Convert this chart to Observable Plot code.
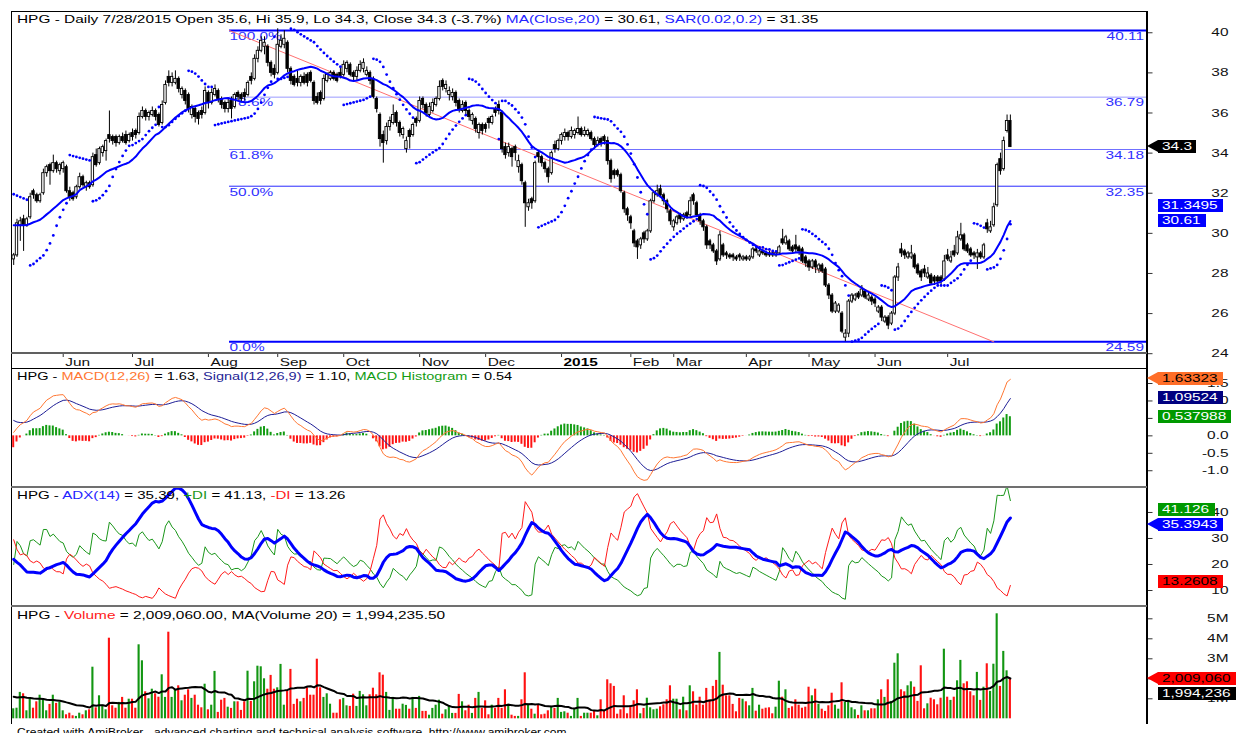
<!DOCTYPE html>
<html><head><meta charset="utf-8">
<script src="https://cdn.jsdelivr.net/npm/d3@7"></script>
<script src="https://cdn.jsdelivr.net/npm/@observablehq/plot@0.6"></script>
<style>
html,body{margin:0;padding:0;background:#fff;overflow:hidden;}
#wrap{position:relative;width:1246px;height:733px;overflow:hidden;background:#fff;font-family:"Liberation Sans",Arial,sans-serif;}
.ttl{position:absolute;left:16.5px;font-size:11px;line-height:11px;white-space:pre;color:#000;transform-origin:0 0;}
.box{position:absolute;height:13px;overflow:hidden;font-size:11px;line-height:13px;}
.box span{position:absolute;left:4px;top:0;white-space:pre;transform-origin:0 0;}
.arr{position:absolute;width:0;height:0;border-top:6.5px solid transparent;border-bottom:6.5px solid transparent;}
.ln{position:absolute;}
</style></head><body><div id="wrap"></div>
<script>
// ---------------- DATA ----------------
const O = [
28.7,28.9,30.4,30.7,30.4,30.8,32.1,31.9,31.6,32.0,
33.0,33.4,33.1,33.5,33.1,33.2,33.3,32.1,32.0,31.8,
32.3,32.8,32.3,32.5,32.4,33.9,33.5,34.0,34.1,34.9,
34.8,34.8,34.5,34.8,34.9,34.6,35.0,35.1,35.0,35.8,
36.1,35.8,35.9,36.1,35.9,35.5,36.5,37.8,37.5,37.5,
37.7,36.9,37.1,36.9,35.9,36.2,36.0,36.1,36.0,37.0,
36.5,36.9,37.1,36.7,36.5,36.2,36.6,36.3,37.0,36.9,
37.0,36.9,37.8,37.7,38.7,39.1,39.3,39.3,38.5,38.2,
38.0,39.3,39.4,39.5,38.2,37.8,37.7,37.5,37.8,37.9,
38.0,37.5,36.8,37.0,36.7,37.6,37.7,38.0,37.9,38.0,
37.9,38.2,38.4,38.0,37.8,38.1,38.2,37.9,38.0,37.7,
36.7,35.9,34.9,34.6,35.3,35.5,36.0,35.5,34.9,34.2,
35.1,34.9,35.7,35.6,36.7,36.4,35.9,36.1,36.4,36.7,
37.6,37.2,36.9,36.8,37.0,36.6,36.1,36.5,36.1,35.6,
35.7,35.0,35.4,35.4,35.7,35.5,36.2,36.4,36.0,34.3,
34.0,34.2,34.3,33.3,33.4,32.5,31.3,31.7,31.6,34.0,
33.8,33.5,33.2,33.0,34.4,34.2,34.6,34.8,35.0,34.8,
34.9,35.0,35.2,34.9,34.9,35.0,34.7,34.4,34.7,34.8,
34.6,33.6,33.1,33.1,32.9,32.0,31.2,30.8,30.1,29.6,
29.4,30.0,29.7,30.1,31.6,31.9,32.2,31.9,31.6,31.1,
30.3,30.5,30.9,30.7,31.0,30.9,31.9,31.5,30.9,30.6,
30.3,29.6,29.4,29.1,28.7,29.4,29.0,28.9,28.9,28.8,
28.9,28.7,28.8,28.7,28.8,29.2,28.9,29.1,29.0,29.0,
29.0,28.9,29.0,29.7,29.5,29.6,29.3,29.4,29.3,29.2,
28.8,28.6,28.3,28.6,28.2,28.4,28.2,27.4,26.9,26.1,
26.1,26.0,24.8,25.0,26.6,26.7,27.0,26.9,27.1,26.7,
26.8,26.7,26.1,26.3,25.6,25.8,25.5,26.0,27.8,29.2,
29.1,28.8,28.8,28.9,28.4,28.1,28.2,27.8,27.9,27.8,
27.8,27.8,27.7,28.9,28.6,29.1,29.0,29.7,29.9,29.4,
29.2,29.0,28.8,29.0,28.8,30.5,30.1,30.4,31.4,33.7,
33.2,35.1,35.6];
const H = [
29.0,30.7,30.8,30.9,30.8,32.0,32.2,32.0,32.0,33.2,
33.4,33.5,33.9,33.6,33.5,33.6,33.4,32.3,32.1,32.4,
33.0,32.9,32.6,32.6,34.0,34.2,34.3,34.4,34.7,36.1,
34.9,34.9,34.9,35.0,35.1,35.0,35.2,35.2,36.0,36.3,
36.2,36.1,36.3,36.2,36.0,36.6,37.6,38.1,38.0,38.1,
37.8,37.3,37.2,37.0,36.4,36.3,36.1,36.3,37.3,37.1,
37.2,37.4,37.2,36.8,36.6,36.7,36.8,37.0,37.1,37.0,
37.2,37.6,38.0,38.9,39.3,39.8,39.8,39.4,38.6,38.4,
40.2,39.9,40.1,39.6,38.3,37.9,38.1,37.9,38.0,38.0,
38.1,37.6,37.0,37.1,37.9,38.0,38.1,38.1,38.0,38.3,
38.6,38.6,38.5,38.1,38.3,38.6,38.7,38.3,38.1,37.8,
36.8,36.0,35.1,35.5,35.8,36.4,36.1,35.6,35.3,34.8,
35.2,35.5,35.8,36.8,36.8,36.5,36.5,36.7,36.8,37.6,
37.7,37.6,37.3,37.2,37.1,36.7,36.6,36.6,36.2,36.0,
35.8,35.5,35.5,35.5,35.8,35.9,36.3,36.6,36.1,34.5,
34.5,34.3,34.4,33.9,33.5,32.6,31.7,31.8,33.6,34.1,
33.9,33.6,33.3,34.1,34.6,34.7,35.0,35.2,35.1,35.3,
35.2,35.8,35.3,35.3,35.2,35.1,34.8,34.8,34.8,34.9,
34.8,33.7,33.2,33.2,33.0,32.1,31.3,30.9,30.2,29.7,
29.8,30.1,30.2,31.7,32.1,32.4,32.4,32.0,31.7,31.2,
30.7,30.9,31.0,31.0,31.1,31.8,32.0,31.6,31.0,30.7,
30.4,29.7,29.5,29.2,30.1,29.5,29.1,29.0,29.0,28.9,
29.0,28.9,28.9,28.9,29.3,29.3,29.2,29.2,29.1,29.1,
29.1,29.1,29.4,30.2,29.9,29.7,29.4,29.9,29.4,29.3,
28.9,28.7,28.7,28.7,28.5,28.5,28.3,27.5,27.0,26.6,
26.5,26.1,25.2,26.7,27.0,27.0,27.1,27.4,27.2,27.1,
26.9,26.8,26.4,26.4,25.9,25.9,26.1,27.9,28.5,29.5,
29.2,29.1,29.4,29.0,28.5,28.2,28.4,28.3,28.0,27.9,
27.9,27.9,28.9,29.2,29.1,29.4,30.1,30.5,30.0,29.5,
29.3,29.1,29.2,29.1,29.5,30.7,30.6,31.5,33.5,34.0,
34.8,35.9,35.9];
const L = [
28.4,28.8,29.6,29.1,30.3,30.7,31.7,31.5,31.5,31.9,
32.8,32.4,33.0,33.0,32.9,33.0,32.0,31.6,31.6,31.7,
32.2,32.3,32.1,32.2,32.3,33.3,33.4,33.8,33.6,34.5,
34.4,34.3,34.4,34.5,34.4,34.5,34.6,34.7,34.9,35.7,
35.6,35.6,35.8,35.6,35.3,35.4,36.4,37.3,37.3,37.4,
37.0,36.7,36.4,36.0,35.7,35.5,35.4,35.7,35.9,36.2,
36.4,36.8,36.5,36.2,36.0,36.0,35.7,36.2,36.6,36.5,
36.6,36.8,37.4,37.6,38.5,39.0,38.9,38.3,37.8,37.7,
37.9,39.2,39.2,38.0,37.4,37.3,37.3,37.3,37.4,37.3,
37.5,36.4,36.4,36.4,36.6,37.5,37.6,37.6,37.5,37.7,
37.8,38.0,37.8,37.6,37.6,38.0,38.0,37.8,37.4,36.7,
36.0,34.3,33.5,34.4,35.1,35.4,35.3,34.8,34.7,34.0,
34.2,34.8,35.3,35.5,36.2,35.8,35.8,36.0,36.3,36.6,
37.1,37.0,36.6,36.6,36.3,36.0,36.0,35.9,35.6,35.4,
35.0,34.7,34.9,35.0,35.2,35.4,35.8,35.9,34.0,33.7,
33.8,33.3,33.6,33.0,32.4,30.3,31.1,31.2,31.5,33.5,
33.3,33.0,32.5,32.9,34.0,34.1,34.4,34.6,34.6,34.7,
34.7,34.9,34.8,34.8,34.8,34.6,34.2,34.3,34.3,34.4,
33.4,32.5,32.7,32.8,32.0,31.0,30.6,30.2,29.3,28.7,
29.2,29.5,29.6,30.0,31.5,31.8,31.8,31.4,31.0,30.4,
30.1,30.4,30.5,30.6,30.7,30.8,31.4,30.8,30.4,30.1,
29.2,29.2,29.0,28.4,28.6,28.8,28.7,28.7,28.6,28.6,
28.6,28.6,28.6,28.6,28.7,29.0,28.8,28.9,28.8,28.8,
28.8,28.8,28.9,29.4,29.4,29.1,29.0,29.0,28.9,28.5,
28.3,28.1,28.2,28.0,28.0,28.0,27.3,26.7,26.0,26.0,
26.0,25.0,24.6,24.8,26.5,26.6,26.7,26.8,26.7,26.6,
26.4,26.3,26.0,25.6,25.5,25.2,25.4,25.9,27.6,28.8,
28.7,28.7,28.7,28.2,27.9,27.6,27.8,27.7,27.4,27.4,
27.4,27.4,27.6,28.6,28.5,28.8,28.9,29.6,29.1,29.0,
28.8,28.7,28.2,28.7,28.7,30.0,30.0,30.3,31.3,32.9,
33.1,35.0,34.3];
const C = [
28.9,30.5,30.6,30.4,30.7,31.8,31.9,31.6,31.9,33.0,
33.3,33.1,33.5,33.2,33.4,33.5,32.1,31.8,31.7,32.3,
32.8,32.4,32.5,32.3,33.8,33.4,34.2,34.3,34.6,34.7,
34.6,34.5,34.8,34.6,34.5,34.9,34.8,34.9,35.8,36.1,
35.8,36.0,36.1,35.8,35.4,36.4,37.4,37.5,37.8,37.7,
37.2,37.2,36.6,36.2,36.3,35.8,35.7,35.9,37.1,36.5,
37.0,37.2,36.7,36.4,36.2,36.5,36.2,36.9,36.8,36.7,
36.8,37.5,37.6,38.7,39.1,39.6,39.5,38.5,38.0,37.9,
39.4,39.6,39.7,38.2,37.6,37.4,37.5,37.8,37.5,37.5,
37.6,36.6,36.5,36.6,37.7,37.9,38.0,37.7,37.6,37.8,
38.4,38.5,37.9,37.8,38.1,38.4,38.5,38.1,37.6,36.8,
36.2,34.7,34.5,35.3,35.6,35.9,35.5,35.0,35.2,34.6,
34.8,35.4,35.5,36.6,36.4,36.0,36.3,36.5,36.7,37.3,
37.3,37.4,37.1,37.0,36.5,36.2,36.4,36.1,35.8,35.9,
35.2,35.4,35.1,35.2,35.5,35.8,36.0,36.1,34.2,33.9,
34.3,33.8,34.0,33.6,32.6,31.5,31.5,31.5,33.5,33.8,
33.5,33.2,32.8,34.0,34.2,34.6,34.9,35.0,34.8,35.1,
35.1,35.2,34.9,35.1,35.1,34.7,34.4,34.6,34.5,34.6,
33.6,32.7,32.9,32.9,32.1,31.2,30.9,30.5,29.5,29.3,
29.7,29.7,30.1,31.6,32.0,32.1,31.9,31.6,31.2,30.6,
30.6,30.8,30.7,30.9,30.8,31.6,31.6,30.9,30.6,30.3,
29.4,29.4,29.1,28.6,29.9,28.9,28.9,28.8,28.8,28.7,
28.8,28.8,28.7,28.8,29.2,29.1,29.1,29.0,28.9,28.9,
28.9,29.0,29.3,29.5,29.8,29.2,29.1,29.2,29.1,28.6,
28.5,28.3,28.6,28.3,28.4,28.1,27.4,26.9,26.1,26.5,
26.4,25.1,25.0,26.6,26.9,26.9,26.8,27.2,26.8,26.9,
26.6,26.5,26.3,25.8,25.8,25.4,26.0,27.8,28.3,29.0,
28.9,29.0,29.0,28.3,28.0,27.8,28.0,28.0,27.5,27.6,
27.6,27.6,28.6,28.7,28.8,28.9,29.8,29.9,29.2,29.1,
28.9,28.9,29.0,28.8,29.4,30.2,30.3,31.3,33.4,33.1,
34.6,35.6,34.3];
// volume in millions of shares
const VOL = [
0.50,0.53,1.32,1.25,0.40,0.98,0.53,0.85,1.18,0.98,
0.40,0.72,1.18,0.77,0.83,0.40,0.20,0.28,0.15,0.12,
0.28,0.20,0.40,0.45,2.58,0.55,1.15,0.68,0.45,4.03,
0.65,0.53,0.82,1.07,0.53,0.98,0.98,0.53,3.70,2.90,
1.35,1.00,1.48,1.25,1.08,2.20,1.07,4.33,1.07,1.45,
1.65,0.90,1.18,1.45,1.02,1.18,0.68,0.55,1.73,0.45,
0.68,2.37,0.32,0.93,1.02,0.58,0.52,0.85,0.85,0.42,
0.85,2.38,0.87,1.85,2.63,2.60,2.00,1.48,2.17,1.48,
1.55,2.72,0.68,1.40,2.47,0.72,0.98,0.85,1.02,1.55,
1.18,1.18,2.98,1.55,1.07,1.25,0.73,0.28,0.28,0.95,
1.02,0.65,0.62,1.23,0.62,1.37,1.20,0.65,1.20,1.53,
1.20,2.30,2.18,1.32,0.42,1.07,0.48,0.48,0.73,0.67,
0.48,1.07,0.52,1.12,0.37,0.37,0.18,0.52,0.68,0.93,
0.23,0.45,0.65,0.27,0.27,1.22,0.85,0.40,0.68,0.27,
1.02,1.32,0.52,0.90,0.20,0.68,0.52,1.02,0.52,1.45,
0.73,0.18,0.12,0.12,0.95,2.30,0.73,0.48,0.23,0.68,
0.20,0.23,0.40,0.62,0.52,1.02,0.32,0.35,0.28,0.12,
0.52,1.02,0.12,0.28,0.28,0.28,0.37,0.15,0.95,0.37,
1.95,1.75,1.62,0.23,0.45,1.15,0.25,0.65,0.90,1.45,
0.25,0.52,1.03,0.55,0.45,0.48,0.60,0.70,0.95,1.65,
0.98,0.98,0.45,1.08,0.40,1.65,1.35,0.68,1.08,0.68,
1.52,0.95,1.62,1.92,3.32,1.68,1.15,1.15,0.72,0.35,
1.02,0.98,0.85,0.65,1.52,0.38,0.68,0.48,0.53,0.55,
0.25,0.58,1.88,1.08,1.45,0.52,0.60,0.95,0.68,0.53,
0.58,1.58,1.15,1.48,0.73,0.48,0.37,0.65,1.28,0.68,
0.48,1.80,0.82,0.92,0.55,0.45,0.17,0.65,0.40,0.40,
0.50,0.50,0.95,1.45,1.07,1.95,0.87,2.78,3.25,1.45,
1.35,1.65,1.85,1.58,0.87,2.65,0.50,0.75,1.03,0.95,
0.70,1.03,3.48,1.08,0.92,1.08,1.90,2.92,1.75,1.85,
1.35,1.15,2.32,0.92,1.58,2.75,1.37,2.73,5.25,1.62,
3.37,2.40,2.00906];
// indicator values at the first visible bar (history before it is not shown)
const startMA20 = 30.4, startVolMA = 1.1;
const startMACD = 0.1, startSignal = 0.44;
const startADX = 22, startPDI = 20, startMDI = 29.5;
const startSAR = 31.95, startSARLong = false;
// month starts (bar index) and labels of the date axis
const monthLabels = ["Jun","Jul","Aug","Sep","Oct","Nov","Dec","2015","Feb","Mar","Apr","May","Jun","Jul"];
const monthStart  = [15,36,59,80,100,123,143,166,187,200,222,241,261,283];
// Fibonacci retracement drawn on the chart
const fibPct = ["100.0%","78.6%","61.8%","50.0%","0.0%"];
const fibVal = [40.11,36.79,34.18,32.35,24.59];
const fibFromBar = 65.4;
const trendBars = [65.4, 297];
const trendVals = [40.11, 24.59];
// axis ticks
const priceTicks = [24,26,28,30,32,34,36,38,40];
const macdTicks = [-1.0,-0.5,0.0,0.5,1.0,1.5];
const adxTicks = [10,20,30,40];
const volTicks = [1,2,3,4,5];
// last-value tags shown at the right axis
const priceTagText = ["34.3","31.3495","30.61"];
const priceTagVal  = [34.3,31.3495,30.61];
const macdTagText = ["1.63323","1.09524","0.537988"];
const macdTagVal  = [1.63323,1.09524,0.537988];
const adxTagText = ["41.126","35.3943","13.2608"];
const adxTagVal  = [41.126,35.3943,13.2608];
const volTagText = ["2,009,060","1,994,236"];
const volTagVal  = [2.00906,1.994236];

// ---------------- checks ----------------
const N = C.length;
[["O",O],["H",H],["L",L],["VOL",VOL]].forEach(([n,a])=>{ if(a.length!==N) throw new Error(n+" length "+a.length+" vs C "+N); });

// ---------------- indicators (standard definitions, seeded with the first-bar state) ----------------
const smaSeed=(a,n,start)=>{const p=(start*n-a[0])/(n-1);return a.map((_,i)=>{const s=Math.max(0,i-n+1);let t=0;for(let k=s;k<=i;k++)t+=a[k];return (t+Math.max(0,n-1-i)*p)/n;});};
const ema=(a,n,seed)=>{const k=2/(n+1);let e=seed;return a.map((v,i)=>(e=i?e+k*(v-e):(seed===undefined?v:seed)));};
const wildSeed=(a,n,seed)=>{let s=seed;return a.map(v=>(s=s+(v-s)/n));};
const ma20 = smaSeed(C,20,startMA20);
const e12 = ema(C,12,C[0]), e26 = ema(C,26,C[0]-startMACD);
const macd = C.map((_,i)=>e12[i]-e26[i]);
const signal = ema(macd,9,startSignal);
const hist = macd.map((v,i)=>v-signal[i]);
// Parabolic SAR(0.02,0.2)
const sarV=(()=>{const out=[startSAR];let long=startSARLong,af=0.02,ep=long?H[0]:L[0],s=startSAR;
  for(let i=1;i<N;i++){s=s+af*(ep-s);
    if(long){s=Math.min(s,L[i-1],L[Math.max(0,i-2)]);
      if(L[i]<s){long=false;s=ep;ep=L[i];af=0.02;} else if(H[i]>ep){ep=H[i];af=Math.min(af+0.02,0.2);} }
    else {s=Math.max(s,H[i-1],H[Math.max(0,i-2)]);
      if(H[i]>s){long=true;s=ep;ep=H[i];af=0.02;} else if(L[i]<ep){ep=L[i];af=Math.min(af+0.02,0.2);} }
    out.push(s);}
  return out;})();
// ADX(14), +DI, -DI
const tr=[],pdm=[],mdm=[];
for(let i=1;i<N;i++){const u=H[i]-H[i-1],d=L[i-1]-L[i];
  tr.push(Math.max(H[i]-L[i],Math.abs(H[i]-C[i-1]),Math.abs(L[i]-C[i-1])));
  pdm.push(u>d&&u>0?u:0); mdm.push(d>u&&d>0?d:0);}
const trSeed=1.0;
const sTR=wildSeed(tr,14,trSeed),sP=wildSeed(pdm,14,trSeed*startPDI/100),sM=wildSeed(mdm,14,trSeed*startMDI/100);
const pdi=sTR.map((t,k)=>100*sP[k]/t), mdi=sTR.map((t,k)=>100*sM[k]/t);
const dxv=pdi.map((p,k)=>{const s=p+mdi[k];return s?100*Math.abs(p-mdi[k])/s:0;});
const adx=wildSeed(dxv,14,startADX);
const volMA = smaSeed(VOL,20,startVolMA);

// ---------------- rows ----------------
const bars = d3.range(N).map(i=>({i,o:O[i],h:H[i],l:L[i],c:C[i],v:VOL[i],m:ma20[i],sar:sarV[i],macd:macd[i],sig:signal[i],hist:hist[i],vma:volMA[i]}));
const dmi = [{i:0,adx:startADX,pdi:startPDI,mdi:startMDI}].concat(d3.range(1,N).map(i=>({i,adx:adx[i-1],pdi:pdi[i-1],mdi:mdi[i-1]})));
const fibRows = fibVal.map((v,k)=>({v,pct:fibPct[k],k}));
const trendRows = trendBars.map((b,k)=>({i:b,p:trendVals[k]}));

// ---------------- layout ----------------
const W=1246, ML=11.5, MR=99.5, SX=1.4;
const xDomain=[-0.515,343.4];
const FONT='"Liberation Sans",Arial,sans-serif';
const wrap=document.getElementById("wrap");
const baseStyle={background:"transparent",color:"#000",fontFamily:FONT,fontSize:"11px",overflow:"visible"};
function stretch(root){root.querySelectorAll("text").forEach(el=>{const tr=el.getAttribute("transform")||"";const xa=el.getAttribute("x");
  const x=(xa&&!/[a-z%]/i.test(xa))?(parseFloat(xa)||0):0;
  el.setAttribute("transform",`${tr} translate(${x},0) scale(${SX},1) translate(${-x},0)`);});}
function place(svg,top){svg.style.position="absolute";svg.style.left="0px";svg.style.top=top+"px";wrap.appendChild(svg);stretch(svg);}
const yAxis=(ticks,fmt)=>Plot.axisY(ticks,{anchor:"right",tickSize:5,tickPadding:76.5,textAnchor:"end",tickFormat:fmt,label:null,stroke:"#333",fill:"#111"});
const up=d=>d.c>d.o;

// price pane
const TOP_P=11;
const pricePlot=Plot.plot({width:W,height:357,marginLeft:ML,marginRight:MR,marginTop:0,marginBottom:15,
  x:{domain:xDomain},y:{domain:[24.01,41.06]},style:baseStyle,
  marks:[
    Plot.ruleY(fibRows.filter(d=>d.k===1),{y:"v",x1:()=>fibFromBar,x2:()=>xDomain[1],stroke:"#9a9aff",strokeWidth:1}),
    Plot.ruleY(fibRows.filter(d=>d.k===2),{y:"v",x1:()=>fibFromBar,x2:()=>xDomain[1],stroke:"#7070ff",strokeWidth:1}),
    Plot.ruleY(fibRows.filter(d=>d.k===3),{y:"v",x1:()=>fibFromBar,x2:()=>xDomain[1],stroke:"#2a2aff",strokeWidth:1}),
    Plot.ruleY(fibRows.filter(d=>d.k===0||d.k===4),{y:"v",x1:()=>fibFromBar,x2:()=>xDomain[1],stroke:"#0000ff",strokeWidth:2}),
    Plot.text(fibRows,{x:()=>fibFromBar,y:"v",text:"pct",textAnchor:"start",lineAnchor:"top",dy:1.5,fill:"#3030ff"}),
    Plot.text(fibRows,{x:()=>xDomain[1],y:"v",text:d=>d.v.toFixed(2),textAnchor:"end",lineAnchor:"top",dx:-3,dy:1.5,fill:"#3030ff"}),
    Plot.line(trendRows,{x:"i",y:"p",stroke:"#ff7070",strokeWidth:1}),
    Plot.ruleX(bars,{x:"i",y1:"l",y2:"h",stroke:"#000",strokeWidth:1}),
    Plot.rect(bars.filter(up),{x1:d=>d.i-0.36,x2:d=>d.i+0.36,y1:"o",y2:"c",fill:"#fff",stroke:"#000",strokeWidth:0.9}),
    Plot.rect(bars.filter(d=>!up(d)),{x1:d=>d.i-0.36,x2:d=>d.i+0.36,y1:"o",y2:"c",fill:"#000",stroke:"#000",strokeWidth:0.9}),
    Plot.line(bars,{x:"i",y:"m",stroke:"#0000ff",strokeWidth:2,clip:true}),
    Plot.dot(bars,{x:"i",y:"sar",r:1.4,fill:"#0000ff",stroke:"none",clip:true}),
    yAxis(priceTicks,d=>String(d)),
    Plot.axisX(monthStart,{anchor:"bottom",tickSize:4,fill:"none",stroke:"#333",label:null}),
    Plot.axisX(monthStart.filter((_,k)=>monthLabels[k]!=="2015"),{anchor:"bottom",tickSize:0,tickPadding:5,textAnchor:"start",dx:2,fill:"#111",label:null,tickFormat:i=>monthLabels[monthStart.indexOf(i)]}),
    Plot.axisX(monthStart.filter((_,k)=>monthLabels[k]==="2015"),{anchor:"bottom",tickSize:0,tickPadding:5,textAnchor:"start",dx:2,fill:"#000",fontWeight:"bold",label:null,tickFormat:i=>monthLabels[monthStart.indexOf(i)]})
  ]});
place(pricePlot,TOP_P);

// MACD pane
const TOP_M=368;
const macdPlot=Plot.plot({width:W,height:119,marginLeft:ML,marginRight:MR,marginTop:0,marginBottom:0,
  x:{domain:xDomain,axis:null},y:{domain:[-1.48,1.93]},style:baseStyle,
  marks:[
    Plot.rect(bars.filter(d=>d.hist>=0),{x1:d=>d.i-0.3,x2:d=>d.i+0.3,y1:0,y2:"hist",fill:"#129c12"}),
    Plot.rect(bars.filter(d=>d.hist<0),{x1:d=>d.i-0.3,x2:d=>d.i+0.3,y1:0,y2:"hist",fill:"#ff1414"}),
    Plot.line(bars,{x:"i",y:"sig",stroke:"#1e1e96",strokeWidth:1,clip:true}),
    Plot.line(bars,{x:"i",y:"macd",stroke:"#ff7733",strokeWidth:1,clip:true}),
    yAxis(macdTicks,d=>d.toFixed(1))
  ]});
place(macdPlot,TOP_M);

// ADX pane
const TOP_A=487;
const adxPlot=Plot.plot({width:W,height:119,marginLeft:ML,marginRight:MR,marginTop:0,marginBottom:0,
  x:{domain:xDomain,axis:null},y:{domain:[3.85,49.6]},style:baseStyle,
  marks:[
    Plot.line(dmi,{x:"i",y:"pdi",stroke:"#1a961a",strokeWidth:1,clip:true}),
    Plot.line(dmi,{x:"i",y:"mdi",stroke:"#ff1a1a",strokeWidth:1,clip:true}),
    Plot.line(dmi,{x:"i",y:"adx",stroke:"#0000ff",strokeWidth:3,clip:true}),
    yAxis(adxTicks,d=>String(d))
  ]});
place(adxPlot,TOP_A);

// Volume pane
const TOP_V=606;
const volPlot=Plot.plot({width:W,height:114,marginLeft:ML,marginRight:MR,marginTop:0,marginBottom:0,
  x:{domain:xDomain,axis:null},y:{domain:[-0.085,5.615]},style:baseStyle,
  marks:[
    Plot.rect(bars.filter(up),{x1:d=>d.i-0.32,x2:d=>d.i+0.32,y1:0,y2:"v",fill:"#129612"}),
    Plot.rect(bars.filter(d=>!up(d)),{x1:d=>d.i-0.32,x2:d=>d.i+0.32,y1:0,y2:"v",fill:"#ff1111"}),
    Plot.line(bars,{x:"i",y:"vma",stroke:"#000",strokeWidth:2}),
    yAxis(volTicks,d=>d+"M")
  ]});
place(volPlot,TOP_V);

// ---------------- frame lines ----------------
function line(l,t,w,h,c){const d=document.createElement("div");d.className="ln";Object.assign(d.style,{left:l+"px",top:t+"px",width:w+"px",height:h+"px",background:c});wrap.appendChild(d);}
line(11,11,1136,1,"#000");
line(11,11,1,713,"#000");
line(1145.5,11,2,713,"#000");
line(11,352,1136,2,"#606060");
line(11,367.5,1136,1,"#000");
line(11,485.5,1136,2,"#707070");
line(11,604.5,1136,2,"#707070");

// ---------------- titles ----------------
function title(top,parts,scale){const d=document.createElement("div");d.className="ttl";d.style.top=top+"px";
  parts.forEach(([t,c])=>{const s=document.createElement("span");s.textContent=t;if(c)s.style.color=c;d.appendChild(s);});
  wrap.appendChild(d);d.style.transform=`scaleX(${scale||SX})`;return d;}
title(14.2,[["HPG - Daily 7/28/2015 Open 35.6, Hi 35.9, Lo 34.3, Close 34.3 (-3.7%) "],["MA(Close,20)","#2424ff"],[" = 30.61, "],["SAR(0.02,0.2)","#2424ff"],[" = 31.35"]]);
title(371,[["HPG - "],["MACD(12,26)","#ff7733"],[" = 1.63, "],["Signal(12,26,9)","#1e1e96"],[" = 1.10, "],["MACD Histogram","#139c13"],[" = 0.54"]],1.32);
title(490,[["HPG - "],["ADX(14)","#2424ff"],[" = 35.39, "],["+DI","#1a961a"],[" = 41.13, "],["-DI","#ff1a1a"],[" = 13.26"]],1.37);
title(610,[["HPG - "],["Volume","#ff1a1a"],[" = 2,009,060.00, MA(Volume 20) = 1,994,235.50"]]);
const cr=title(726.5,[["Created with AmiBroker - advanced charting and technical analysis software. http://www.amibroker.com"]],1);
cr.style.transform=`scaleX(${550/cr.offsetWidth})`;

// ---------------- right-axis value tags ----------------
function tags(plot,top,texts,vals,styles){const sy=plot.scale("y");let prevBottom=-1e9;
  texts.forEach((txt,k)=>{const st=styles[k];let t=top+sy.apply(vals[k])-6.5;if(t<prevBottom+2)t=prevBottom+2;prevBottom=t+13;
    if(st.arrow){const a=document.createElement("div");a.className="arr";a.style.left="1147px";a.style.top=t+"px";a.style.borderRight=`11px solid ${st.bg}`;wrap.appendChild(a);}
    const b=document.createElement("div");b.className="box";Object.assign(b.style,{left:"1158px",top:t+"px",background:st.bg,color:st.fg});
    const s=document.createElement("span");s.textContent=txt;s.style.transform=`scaleX(${SX})`;b.appendChild(s);wrap.appendChild(b);
    b.style.width=(s.offsetWidth*SX+9)+"px";});}
tags(pricePlot,TOP_P,priceTagText,priceTagVal,[{bg:"#000",fg:"#fff",arrow:true},{bg:"#0000ff",fg:"#fff"},{bg:"#0000ff",fg:"#fff"}]);
tags(macdPlot,TOP_M,macdTagText,macdTagVal,[{bg:"#ff6e28",fg:"#000",arrow:true},{bg:"#000080",fg:"#fff"},{bg:"#009900",fg:"#fff"}]);
tags(adxPlot,TOP_A,adxTagText,adxTagVal,[{bg:"#009900",fg:"#fff"},{bg:"#0000ff",fg:"#fff",arrow:true},{bg:"#ff0000",fg:"#000"}]);
tags(volPlot,TOP_V,volTagText,volTagVal,[{bg:"#ff0000",fg:"#000",arrow:true},{bg:"#000",fg:"#fff"}]);
</script></body></html>
